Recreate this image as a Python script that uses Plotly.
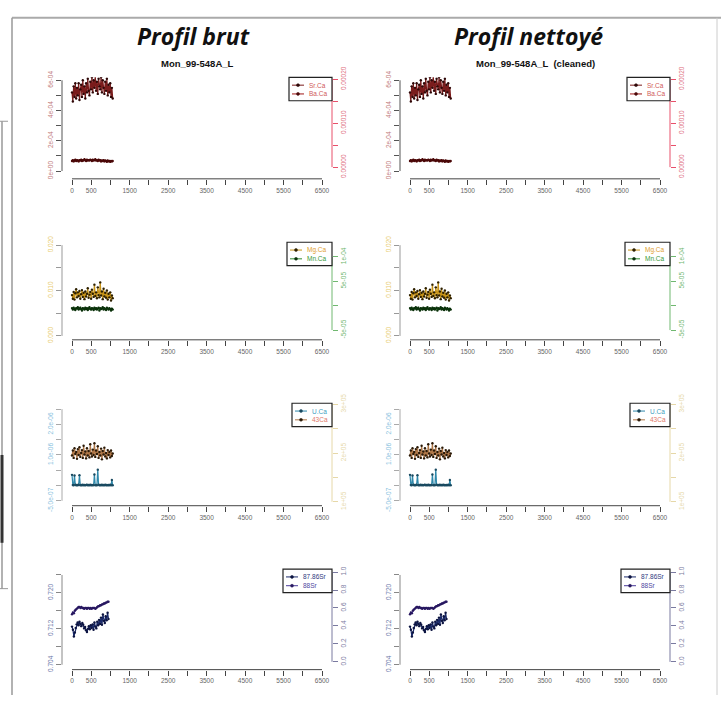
import plotly.graph_objects as go

W, H = 721, 701

# ---- data ----
x_elem = [0, 22, 43, 65, 86, 108, 130, 151, 173, 194, 216, 238, 259, 281, 302, 324, 346, 367, 389, 410,
          432, 454, 475, 497, 518, 540, 562, 583, 605, 626, 648, 670, 691, 713, 734, 756, 778, 799, 821, 842,
          864, 886, 907, 929, 950, 972, 994, 1015, 1037, 1058]

sr_ca = [5.2e-4, 4.6e-4, 5.6e-4, 4.9e-4, 5.8e-4, 4.8e-4, 5.5e-4, 5.0e-4, 5.8e-4, 4.7e-4,
         5.4e-4, 5.7e-4, 4.9e-4, 6.0e-4, 5.1e-4, 5.6e-4, 4.8e-4, 5.8e-4, 5.2e-4, 6.1e-4,
         5.3e-4, 5.0e-4, 5.9e-4, 5.4e-4, 6.2e-4, 5.2e-4, 6.0e-4, 5.5e-4, 6.3e-4, 5.3e-4,
         5.9e-4, 5.1e-4, 6.1e-4, 5.6e-4, 5.4e-4, 6.2e-4, 5.2e-4, 6.0e-4, 5.5e-4, 5.1e-4,
         5.9e-4, 5.3e-4, 6.1e-4, 5.0e-4, 5.7e-4, 5.2e-4, 5.8e-4, 4.9e-4, 5.5e-4, 4.8e-4]

ba_ca = [1.4e-5, 1.6e-5, 1.3e-5, 1.5e-5, 1.7e-5, 1.4e-5, 1.6e-5, 1.5e-5, 1.3e-5, 1.6e-5,
         1.5e-5, 1.7e-5, 1.4e-5, 1.6e-5, 1.5e-5, 1.8e-5, 1.6e-5, 1.4e-5, 1.7e-5, 1.5e-5,
         1.6e-5, 1.5e-5, 1.7e-5, 1.6e-5, 1.4e-5, 1.7e-5, 1.5e-5, 1.6e-5, 1.8e-5, 1.5e-5,
         1.6e-5, 1.4e-5, 1.7e-5, 1.5e-5, 1.6e-5, 1.3e-5, 1.5e-5, 1.4e-5, 1.6e-5, 1.3e-5,
         1.5e-5, 1.4e-5, 1.2e-5, 1.5e-5, 1.3e-5, 1.4e-5, 1.2e-5, 1.4e-5, 1.3e-5, 1.4e-5]

mg_ca = [0.0090, 0.0082, 0.0097, 0.0080, 0.0094, 0.0103, 0.0085, 0.0096, 0.0088, 0.0099,
         0.0082, 0.0092, 0.0101, 0.0086, 0.0095, 0.0081, 0.0098, 0.0087, 0.0093, 0.0105,
         0.0084, 0.0091, 0.0097, 0.0082, 0.0102, 0.0093, 0.0086, 0.0113, 0.0088, 0.0096,
         0.0083, 0.0107, 0.0090, 0.0085, 0.0118, 0.0089, 0.0098, 0.0081, 0.0104, 0.0087,
         0.0095, 0.0084, 0.0100, 0.0080, 0.0093, 0.0085, 0.0096, 0.0078, 0.0089, 0.0083]

mn_ca = [-5e-6, -8e-6, -4e-6, -7e-6, -9e-6, -5e-6, -6e-6, -3e-6, -8e-6, -6e-6,
         -4e-6, -7e-6, -1.0e-5, -5e-6, -6e-6, -8e-6, -4e-6, -7e-6, -5e-6, -9e-6,
         -6e-6, -3e-6, -7e-6, -8e-6, -5e-6, -6e-6, -9e-6, -4e-6, -7e-6, -5e-6,
         -8e-6, -6e-6, -4e-6, -1.0e-5, -5e-6, -7e-6, -6e-6, -3e-6, -8e-6, -5e-6,
         -7e-6, -9e-6, -4e-6, -6e-6, -8e-6, -5e-6, -7e-6, -1.0e-5, -6e-6, -8e-6]

u_ca = [3.5e-7, 2e-8, 1e-8, 3.3e-7, 3e-8, 1e-8, 2e-8, 1e-8, 3e-8, 3.4e-7,
        1e-8, 2e-8, 1e-8, 3e-8, 1e-8, 2e-8, 1e-8, 2e-8, 3e-8, 1e-8,
        2e-8, 1e-8, 3e-8, 1e-8, 2e-8, 1e-8, 2e-8, 3.6e-7, 1e-8, 2e-8,
        1e-8, 5.2e-7, 3e-8, 1e-8, 2e-8, 1e-8, 3e-8, 1e-8, 2e-8, 1e-8,
        3e-8, 1e-8, 2e-8, 1e-8, 2e-8, 1e-8, 3e-8, 1e-8, 1.8e-7, 1e-8]

ca43 = [195000, 205000, 190000, 210000, 198000, 202000, 188000, 208000, 196000, 212000,
        192000, 200000, 206000, 190000, 215000, 197000, 203000, 189000, 210000, 195000,
        204000, 191000, 218000, 199000, 193000, 207000, 196000, 220000, 192000, 205000,
        198000, 214000, 190000, 202000, 195000, 209000, 187000, 204000, 197000, 211000,
        193000, 200000, 189000, 206000, 196000, 202000, 191000, 205000, 194000, 199000]

x_iso = [0, 24, 49, 73, 97, 122, 146, 170, 195, 219, 243, 268, 292, 316, 341, 365, 389, 414, 438, 462,
         487, 511, 535, 560, 584, 608, 633, 657, 681, 706, 730, 754, 779, 803, 827, 852, 876, 900, 925, 949]

sr8786 = [0.7125, 0.7118, 0.7103, 0.7112, 0.7122, 0.7130, 0.7134, 0.7128, 0.7136, 0.7131,
          0.7126, 0.7133, 0.7129, 0.7121, 0.7124, 0.7117, 0.7113, 0.7120, 0.7126, 0.7119,
          0.7128, 0.7122, 0.7130, 0.7118, 0.7134, 0.7125, 0.7121, 0.7136, 0.7128, 0.7140,
          0.7131, 0.7145, 0.7129, 0.7152, 0.7138, 0.7133, 0.7148, 0.7139, 0.7156, 0.7142]

sr88 = [0.53, 0.55, 0.54, 0.57, 0.58, 0.59, 0.60, 0.61, 0.61, 0.60,
        0.61, 0.60, 0.60, 0.59, 0.60, 0.60, 0.59, 0.60, 0.60, 0.59,
        0.60, 0.59, 0.60, 0.60, 0.60, 0.59, 0.60, 0.61, 0.62, 0.62,
        0.63, 0.63, 0.64, 0.64, 0.65, 0.65, 0.66, 0.66, 0.67, 0.67]

x_ticks = [0, 500, 1000, 1500, 2000, 2500, 3000, 3500, 4000, 4500, 5000, 5500, 6000, 6500]
x_ticktext = ["0", "500", "", "1500", "", "2500", "", "3500", "", "4500", "", "5500", "", "6500"]

panels = [("Profil brut", "Mon_99-548A_L", 0, 193),
          ("Profil nettoyé", "Mon_99-548A_L  (cleaned)", 338, 528)]

rows = [
    dict(top=68, bot=172, leg=289,
         lt=[0, 1e-4, 2e-4, 3e-4, 4e-4, 5e-4, 6e-4],
         ltxt=["0e+00", "", "2e-04", "", "4e-04", "", "6e-04"], lpx=(164, 71),
         lcol="#c07a7a", llc="#555555",
         rt=[0, 5e-5, 1e-4, 1.5e-4, 2e-4],
         rtxt=["0.00000", "", "0.00010", "", "0.00020"], rpx=(160, 70),
         rcol="#e07080", rlc="#e8506a",
         series=[("Sr.Ca", x_elem, sr_ca, "#7a1c1c", "#2e0808", "#d05a5a", "L"),
                 ("Ba.Ca", x_elem, ba_ca, "#a01818", "#4a0808", "#d05a5a", "R")]),
    dict(top=237, bot=337, leg=287,
         lt=[0, 0.005, 0.01, 0.015, 0.02],
         ltxt=["0.000", "", "0.010", "", "0.020"], lpx=(333, 240),
         lcol="#e8cc70", llc="#999999",
         rt=[-5e-5, 0, 5e-5, 1e-4],
         rtxt=["-5e-05", "", "5e-05", "1e-04"], rpx=(327, 252),
         rcol="#70b870", rlc="#70b870",
         series=[("Mg.Ca", x_elem, mg_ca, "#c89418", "#2e2000", "#e0a030", "L"),
                 ("Mn.Ca", x_elem, mn_ca, "#2e8b2e", "#0a300a", "#3a9a3a", "R")]),
    dict(top=402, bot=507, leg=292,
         lt=[-5e-7, 0, 5e-7, 1e-6, 1.5e-6, 2e-6, 2.5e-6],
         ltxt=["-5.0e-07", "", "", "1.0e-06", "", "2.0e-06", ""], lpx=(502, 408),
         lcol="#88bfe0", llc="#aaaaaa",
         rt=[1e5, 1.5e5, 2e5, 2.5e5, 3e5],
         rtxt=["1e+05", "", "2e+05", "", "3e+05"], rpx=(503, 403),
         rcol="#e6d8a8", rlc="#e6d8a8",
         series=[("U.Ca", x_elem, u_ca, "#2f88aa", "#1a4a60", "#40a0c0", "L"),
                 ("43Ca", x_elem, ca43, "#b07848", "#2a1a08", "#e07868", "R")]),
    dict(top=572, bot=675, leg=283,
         lt=[0.704, 0.708, 0.712, 0.716, 0.720, 0.724],
         ltxt=["0.704", "", "0.712", "", "0.720", ""], lpx=(670, 578),
         lcol="#6a78a8", llc="#888888",
         rt=[0, 0.2, 0.4, 0.6, 0.8, 1.0],
         rtxt=["0.0", "0.2", "0.4", "0.6", "0.8", "1.0"], rpx=(667, 575),
         rcol="#7a7aa0", rlc="#7a7aa0",
         series=[("87.86Sr", x_iso, sr8786, "#1a2a6a", "#0c1440", "#303880", "L"),
                 ("88Sr", x_iso, sr88, "#4a3a9a", "#281860", "#5048a0", "R")]),
]

TICKFONT = "Liberation Sans"


def axis_range(ticks, px, lo, hi):
    # ticks[0] sits at pixel px[0], ticks[-1] at px[1]; extend to the region edges lo/hi
    v1, v2 = ticks[0], ticks[-1]
    p1, p2 = px
    s = (v2 - v1) / (p2 - p1)
    return [v1 + (lo - p1) * s, v2 + (hi - p2) * s]


def pxx(p):
    return p / W


def pxy(p):
    return 1 - p / H


fig = go.Figure()
layout = {}
shapes = []
annots = []

k = 0
for title, sub, off, tx in panels:
    x_left, x_right = 62 + off, 332 + off
    annots.append(dict(x=pxx(tx), y=pxy(26), xref="paper", yref="paper",
                       xanchor="center", yanchor="middle", text=title, showarrow=False,
                       font=dict(family="Open Sans", size=23, color="#111111", weight=700, style="italic")))
    annots.append(dict(x=pxx((x_left + x_right) / 2), y=pxy(54), xref="paper", yref="paper",
                       xanchor="center", yanchor="middle", text=sub, showarrow=False,
                       font=dict(family="Liberation Sans", size=9.5, color="#111111", weight=700)))
    for row in rows:
        k += 1
        xa = "x" if k == 1 else "x%d" % k
        yl = "y" if k == 1 else "y%d" % (2 * k - 1)
        yr = "y%d" % (2 * k)
        top, bot = row["top"], row["bot"]

        layout["xaxis" if k == 1 else "xaxis%d" % k] = dict(
            domain=[pxx(x_left), pxx(x_right)],
            range=axis_range(x_ticks, (72 + off, 322 + off), x_left, x_right),
            anchor=yl, tickvals=x_ticks, ticktext=x_ticktext,
            ticks="outside", ticklen=5, tickcolor="#444444", tickwidth=1,
            tickfont=dict(family=TICKFONT, size=6.5, color="#666666"),
            showline=False, showgrid=False, zeroline=False)

        layout["yaxis" if k == 1 else "yaxis%d" % (2 * k - 1)] = dict(
            domain=[pxy(bot), pxy(top)],
            range=axis_range(row["lt"], row["lpx"], bot, top),
            anchor=xa, side="left", tickvals=row["lt"], ticktext=row["ltxt"], tickangle=-90,
            ticks="outside", ticklen=5, tickcolor=row["llc"], tickwidth=1,
            tickfont=dict(family=TICKFONT, size=6.5, color=row["lcol"]),
            showline=False, showgrid=False, zeroline=False)

        layout["yaxis%d" % (2 * k)] = dict(
            overlaying=yl, anchor=xa, side="right",
            range=axis_range(row["rt"], row["rpx"], bot, top),
            tickvals=row["rt"], ticktext=row["rtxt"], tickangle=-90,
            ticks="outside", ticklen=5, tickcolor=row["rlc"], tickwidth=1,
            tickfont=dict(family=TICKFONT, size=6.5, color=row["rcol"]),
            showline=False, showgrid=False, zeroline=False)

        # R style axis lines, drawn only between the first and last tick
        shapes.append(dict(type="line", xref=xa, yref=yl + " domain", x0=x_ticks[0], x1=x_ticks[-1],
                           y0=0, y1=0, line=dict(color="#444444", width=1)))
        shapes.append(dict(type="line", xref=xa + " domain", yref=yl, x0=0, x1=0,
                           y0=row["lt"][0], y1=row["lt"][-1], line=dict(color=row["llc"], width=1)))
        shapes.append(dict(type="line", xref=xa + " domain", yref=yr, x0=1, x1=1,
                           y0=row["rt"][0], y1=row["rt"][-1], line=dict(color=row["rlc"], width=1)))

        for name, xs, ys, lc, mc, tc, side in row["series"]:
            fig.add_trace(go.Scatter(x=xs, y=ys, xaxis=xa, yaxis=yl if side == "L" else yr,
                                     mode="lines+markers", name=name, showlegend=False,
                                     line=dict(color=lc, width=1.2),
                                     marker=dict(color=mc, size=2.4)))

        # legend box in the top right corner, like R's legend()
        lx0, lx1 = row["leg"] + off, x_right
        shapes.append(dict(type="rect", xref="paper", yref="paper",
                           x0=pxx(lx0), x1=pxx(lx1), y0=pxy(top + 24), y1=pxy(top),
                           line=dict(color="#222222", width=1.2), fillcolor="white"))
        for i, (name, xs, ys, lc, mc, tc, side) in enumerate(row["series"]):
            yy = top + 8 + i * 9
            shapes.append(dict(type="line", xref="paper", yref="paper",
                               x0=pxx(lx0 + 3), x1=pxx(lx0 + 15), y0=pxy(yy), y1=pxy(yy),
                               line=dict(color=lc, width=1)))
            shapes.append(dict(type="circle", xref="paper", yref="paper",
                               x0=pxx(lx0 + 7.5), x1=pxx(lx0 + 10.5), y0=pxy(yy + 1.5), y1=pxy(yy - 1.5),
                               line=dict(color=mc, width=0.5), fillcolor=mc))
            annots.append(dict(x=pxx(lx0 + 18), y=pxy(yy), xref="paper", yref="paper",
                               text=name, showarrow=False, xanchor="left", yanchor="middle",
                               font=dict(family=TICKFONT, size=6.5, color=tc)))

# page frame and the edge of the window behind
frame = [((12, 7), (721, 7), "#aaaaaa", 2), ((12, 7), (12, 701), "#999999", 1.5),
         ((717, 7), (717, 701), "#cccccc", 1), ((2, 113), (2, 592), "#999999", 1.5),
         ((2, 455), (2, 545), "#333333", 3), ((0, 113), (8, 113), "#999999", 1),
         ((0, 592), (8, 592), "#999999", 1)]
for (a, b, c, w) in frame:
    shapes.append(dict(type="line", xref="paper", yref="paper",
                       x0=pxx(a[0]), y0=pxy(a[1]), x1=pxx(b[0]), y1=pxy(b[1]),
                       line=dict(color=c, width=w)))

fig.update_layout(**layout)
fig.update_layout(width=W, height=H, margin=dict(l=0, r=0, t=0, b=0),
                  paper_bgcolor="white", plot_bgcolor="rgba(0,0,0,0)",
                  showlegend=False, shapes=shapes, annotations=annots)

# pin the figure to the top left corner of the window (no body margin)
pin = ("document.documentElement.style.margin='0';document.body.style.margin='0';"
       "document.body.style.overflow='hidden';"
       "var d=document.getElementById('{plot_id}');d.style.position='fixed';"
       "d.style.left='0px';d.style.top='0px';")
fig.write_html("out.html", config={"displayModeBar": False}, post_script=pin)
